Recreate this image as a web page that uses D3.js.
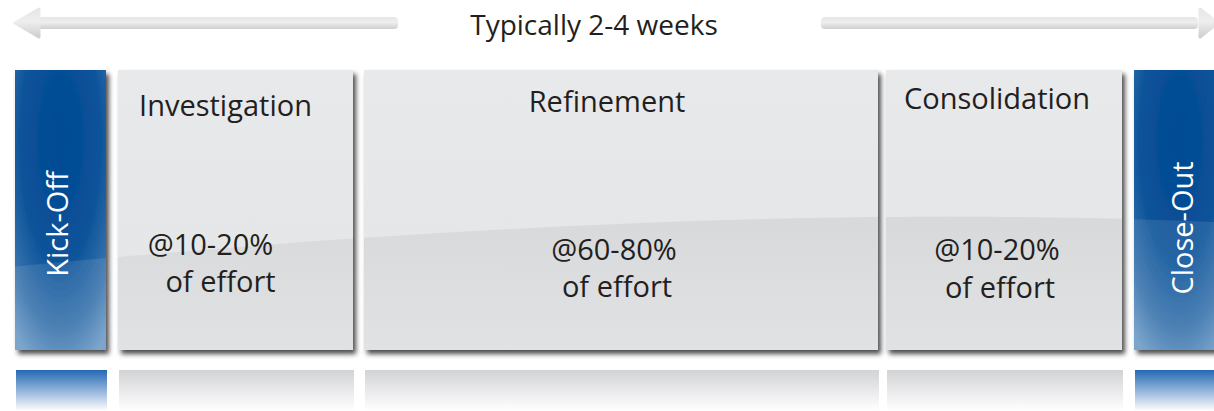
<!DOCTYPE html>
<html>
<head>
<meta charset="utf-8">
<script src="https://cdn.jsdelivr.net/npm/d3@7"></script>
<style>
  html, body { margin: 0; padding: 0; background: #fff; }
  svg { display: block; }
  text { font-family: "Open Sans", "Noto Sans", sans-serif; }
</style>
</head>
<body>
<svg id="svg" width="1214" height="411"></svg>
<script>
// stages of the engagement, left to right
const stages = ["Kick-Off", "Investigation", "Refinement", "Consolidation", "Close-Out"];
const stageKind = ["milestone", "phase", "phase", "phase", "milestone"];
const stageWidth = [9.1, 23.5, 51.4, 23.6, 9.1]; // relative width of each block
const effortLines = [[], ["@10-20%", "of effort"], ["@60-80%", "of effort"], ["@10-20%", "of effort"], []];
const durationLabel = "Typically 2-4 weeks";

const width = 1214;
const height = 411;
// spacing after each block (layout only)
const gaps = [1.2, 1.1, 0.8, 1.2, 0];
// text nudges per block: [dx, baseline y]
const nudge = {
  "Kick-Off": { rot: [7.5, 224] },
  "Investigation": { title: [-10, 116], lines: [[-25, 255], [-15, 292]] },
  "Refinement": { title: [-14, 112], lines: [[-7, 260], [-4, 297]] },
  "Consolidation": { title: [-7, 109], lines: [[-7, 260], [-4, 298]] },
  "Close-Out": { rot: [13.5, 228] }
};

const svg = d3.select("#svg");
const defs = svg.append("defs");

// cumulative layout
let acc = 0;
const blocks = stages.map((name, i) => {
  const b = { name, kind: stageKind[i], start: acc, end: acc + stageWidth[i], lines: effortLines[i], i };
  acc += stageWidth[i] + gaps[i];
  return b;
});
const total = acc;

const x = d3.scaleLinear().domain([0, total]).range([15, 1225]);
const boxTop = 70, boxBottom = 350;
const mid = d => (x(d.start) + x(d.end)) / 2;

// ---- defs ----
const shadow = defs.append("filter").attr("id", "shadow")
  .attr("x", "-5%").attr("y", "-5%").attr("width", "115%").attr("height", "115%");
shadow.append("feDropShadow").attr("dx", 3).attr("dy", 4).attr("stdDeviation", 2.4)
  .attr("flood-color", "#000").attr("flood-opacity", 0.7);

const greyGrad = defs.append("linearGradient").attr("id", "grey").attr("x1", 0).attr("y1", 0).attr("x2", 0).attr("y2", 1);
greyGrad.append("stop").attr("offset", "0%").attr("stop-color", "#e8e9eb");
greyGrad.append("stop").attr("offset", "100%").attr("stop-color", "#e4e5e7");

const blueGrad = defs.append("radialGradient").attr("id", "blue")
  .attr("cx", "50%").attr("cy", "25%").attr("r", "85%")
  .attr("fx", "50%").attr("fy", "25%");
blueGrad.append("stop").attr("offset", "0%").attr("stop-color", "#014a93");
blueGrad.append("stop").attr("offset", "50%").attr("stop-color", "#0a5299");
blueGrad.append("stop").attr("offset", "80%").attr("stop-color", "#3a74ad");
blueGrad.append("stop").attr("offset", "100%").attr("stop-color", "#6d9bc7");

const glossGrey = defs.append("linearGradient").attr("id", "glossGrey").attr("x1", 0).attr("y1", 0).attr("x2", 0).attr("y2", 1);
glossGrey.append("stop").attr("offset", "0%").attr("stop-color", "#d3d4d6");
glossGrey.append("stop").attr("offset", "100%").attr("stop-color", "#e6e7e9");

const reflGrey = defs.append("linearGradient").attr("id", "reflGrey").attr("x1", 0).attr("y1", 0).attr("x2", 0).attr("y2", 1);
reflGrey.append("stop").attr("offset", "0%").attr("stop-color", "#d2d3d5");
reflGrey.append("stop").attr("offset", "100%").attr("stop-color", "#ffffff");

const reflBlue = defs.append("linearGradient").attr("id", "reflBlue").attr("x1", 0).attr("y1", 0).attr("x2", 0).attr("y2", 1);
reflBlue.append("stop").attr("offset", "0%").attr("stop-color", "#2468b4");
reflBlue.append("stop").attr("offset", "100%").attr("stop-color", "#ffffff");

const arrowGrad = defs.append("linearGradient").attr("id", "arrow").attr("x1", 0).attr("y1", 0).attr("x2", 0).attr("y2", 1);
arrowGrad.append("stop").attr("offset", "0%").attr("stop-color", "#e6e6e6");
arrowGrad.append("stop").attr("offset", "45%").attr("stop-color", "#eeeeee");
arrowGrad.append("stop").attr("offset", "100%").attr("stop-color", "#cfcfcf");

// gloss region: everything under one sweeping curve
const glossPath = "M0,268 Q700,200 1214,222 L1214,411 L0,411 Z";

// ---- duration arrow ----
const arrows = svg.append("g");
const arrowY = 23;
const leftStart = x(0), leftEnd = 398;
const rightStart = 821, rightEnd = width;
arrows.append("rect").attr("x", leftStart + 18).attr("y", arrowY - 6).attr("width", leftEnd - leftStart - 18)
  .attr("height", 12).attr("rx", 4).attr("fill", "url(#arrow)");
arrows.append("path")
  .attr("d", `M${leftStart},${arrowY} L${leftStart + 24},${arrowY - 14} L${leftStart + 24},${arrowY + 14} Z`)
  .attr("fill", "url(#arrow)").attr("stroke", "url(#arrow)").attr("stroke-width", 3).attr("stroke-linejoin", "round");
arrows.append("rect").attr("x", rightStart).attr("y", arrowY - 6).attr("width", rightEnd - rightStart - 16)
  .attr("height", 12).attr("rx", 4).attr("fill", "url(#arrow)");
arrows.append("path")
  .attr("d", `M${rightEnd + 4},${arrowY} L${rightEnd - 14},${arrowY - 14} L${rightEnd - 14},${arrowY + 14} Z`)
  .attr("fill", "url(#arrow)").attr("stroke", "url(#arrow)").attr("stroke-width", 3).attr("stroke-linejoin", "round");

svg.append("text")
  .attr("x", 594).attr("y", 35)
  .attr("text-anchor", "middle")
  .attr("font-size", 28)
  .attr("fill", "#231f20")
  .text(durationLabel);

// ---- reflections ----
svg.append("g").selectAll("rect")
  .data(blocks)
  .join("rect")
  .attr("x", d => x(d.start) + 1)
  .attr("y", 370)
  .attr("width", d => x(d.end) - x(d.start))
  .attr("height", 41)
  .attr("fill", d => d.kind === "milestone" ? "url(#reflBlue)" : "url(#reflGrey)");

// ---- blocks ----
const g = svg.append("g").selectAll("g")
  .data(blocks)
  .join("g");

g.append("rect")
  .attr("x", d => x(d.start))
  .attr("y", boxTop)
  .attr("width", d => x(d.end) - x(d.start))
  .attr("height", boxBottom - boxTop)
  .attr("fill", d => d.kind === "milestone" ? "url(#blue)" : "url(#grey)")
  .attr("filter", "url(#shadow)");

g.each(function(d) {
  const cid = "clip" + d.i;
  defs.append("clipPath").attr("id", cid)
    .append("rect")
    .attr("x", x(d.start)).attr("y", boxTop)
    .attr("width", x(d.end) - x(d.start)).attr("height", boxBottom - boxTop);
  d3.select(this).append("path")
    .attr("d", glossPath)
    .attr("clip-path", `url(#${cid})`)
    .attr("fill", d.kind === "milestone" ? "#ffffff" : "url(#glossGrey)")
    .attr("fill-opacity", d.kind === "milestone" ? 0.1 : 0.75);
});

// titles for phases
g.filter(d => d.kind === "phase")
  .append("text")
  .attr("x", d => mid(d) + nudge[d.name].title[0])
  .attr("y", d => nudge[d.name].title[1])
  .attr("text-anchor", "middle")
  .attr("font-size", 29)
  .attr("fill", "#231f20")
  .text(d => d.name);

// effort text
g.filter(d => d.kind === "phase")
  .append("text")
  .attr("text-anchor", "middle")
  .attr("font-size", 29)
  .attr("fill", "#231f20")
  .selectAll("tspan")
  .data(d => d.lines.map((t, j) => ({ t, j, d })))
  .join("tspan")
  .attr("x", e => mid(e.d) + nudge[e.d.name].lines[e.j][0])
  .attr("y", e => nudge[e.d.name].lines[e.j][1])
  .text(e => e.t);

// rotated milestone labels
g.filter(d => d.kind === "milestone")
  .append("text")
  .attr("transform", d => `translate(${mid(d) + nudge[d.name].rot[0]},${nudge[d.name].rot[1]}) rotate(-90)`)
  .attr("text-anchor", "middle")
  .attr("font-size", 29)
  .attr("fill", "#ffffff")
  .text(d => d.name);
</script>
</body>
</html>
